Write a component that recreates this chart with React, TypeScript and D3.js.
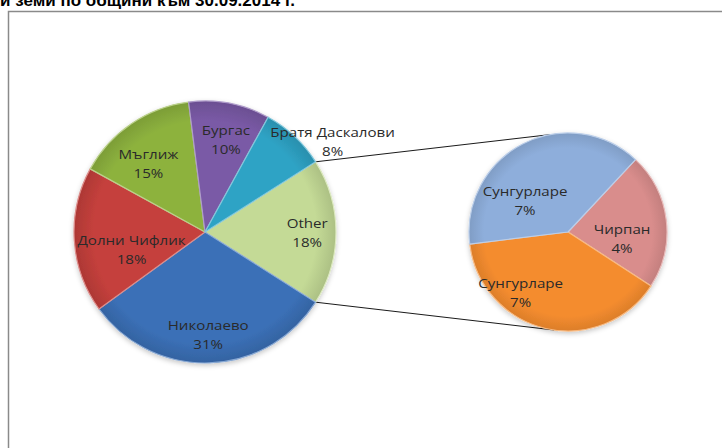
import React from 'react';
import * as d3 from 'd3';

// ---------- data ----------
const titleText = 'и земи по общини към 30.09.2014 г.';

const mainCategories = ['Other', 'Николаево', 'Долни Чифлик', 'Мъглиж', 'Бургас', 'Братя Даскалови'];
const mainValues = [18, 31, 18, 15, 10, 8];

const subCategories = ['Чирпан', 'Сунгурларе', 'Сунгурларе'];
const subValues = [4, 7, 7];

// ---------- styles / layout ----------
const mainColors = ['#c4da96', '#3b70b7', '#c5403c', '#8db23e', '#7a5aa6', '#2fa3c5'];
const subColors = ['#d98d8c', '#f48c2f', '#8eaedb'];

// label placement: radius factor + nudge (layout only)
const mainLabelLayout = [
  { f: 0.78, dx: 0, dy: 0 },
  { f: 0.78, dx: 0, dy: 0 },
  { f: 0.6, dx: 5, dy: 12 },
  { f: 0.7, dx: -5, dy: 7 },
  { f: 0.73, dx: 3, dy: 1 },
  { f: 1.2, dx: 20, dy: 24 },
];
const subLabelLayout = [
  { f: 0.55, dx: 0, dy: 13 },
  { f: 0.6, dx: -34, dy: 2 },
  { f: 0.6, dx: -16, dy: 21 },
];

const W = 722;
const H = 448;
const mainC = { x: 205, y: 232, r: 131 };
const subC = { x: 568, y: 232, r: 99 };
const subStartDeg = 43;
const connectorSubDeg = [100, 262]; // math angles on the second pie

const deg = Math.PI / 180;

function lighten(c: string, k: number) {
  return d3.interpolateRgb(c, '#ffffff')(k);
}
function darken(c: string, k: number) {
  return d3.interpolateRgb(c, '#000000')(k);
}

export default function App() {
  const mainTotal = d3.sum(mainValues);
  const otherFrac = mainValues[0] / mainTotal;
  const mainStart = Math.PI / 2 - otherFrac * Math.PI;

  const mainPie = d3
    .pie<number>()
    .sort(null)
    .value((d) => d)
    .startAngle(mainStart)
    .endAngle(mainStart + 2 * Math.PI);
  const mainArcs = mainPie(mainValues);

  const subPie = d3
    .pie<number>()
    .sort(null)
    .value((d) => d)
    .startAngle(subStartDeg * deg)
    .endAngle(subStartDeg * deg + 2 * Math.PI);
  const subArcs = subPie(subValues);

  const mainArc = d3.arc<d3.PieArcDatum<number>>().innerRadius(0).outerRadius(mainC.r);
  const subArc = d3.arc<d3.PieArcDatum<number>>().innerRadius(0).outerRadius(subC.r);

  const fmt = (v: number) => `${Math.round((v / mainTotal) * 100)}%`;

  // connector lines: from Other slice's edges to second pie
  const otherArc = mainArcs[0];
  const p1 = {
    x: mainC.x + mainC.r * Math.sin(otherArc.startAngle),
    y: mainC.y - mainC.r * Math.cos(otherArc.startAngle),
  };
  const p2 = {
    x: mainC.x + mainC.r * Math.sin(otherArc.endAngle),
    y: mainC.y - mainC.r * Math.cos(otherArc.endAngle),
  };
  const q1 = {
    x: subC.x + subC.r * Math.cos(connectorSubDeg[0] * deg),
    y: subC.y - subC.r * Math.sin(connectorSubDeg[0] * deg),
  };
  const q2 = {
    x: subC.x + subC.r * Math.cos(connectorSubDeg[1] * deg),
    y: subC.y - subC.r * Math.sin(connectorSubDeg[1] * deg),
  };

  const labelFont = "'Open Sans', 'DejaVu Sans', sans-serif";

  const renderLabel = (
    key: string,
    cx: number,
    cy: number,
    name: string,
    pct: string
  ) => (
    <g key={key} transform={`translate(${cx},${cy}) scale(1.12,1)`}>
      <text
        x={0}
        y={-9.5}
        textAnchor="middle"
        dominantBaseline="central"
        fontFamily={labelFont}
        fontSize={13.5}
        fill="#2a2a2a"
      >
        {name}
      </text>
      <text
        x={0}
        y={9.5}
        textAnchor="middle"
        dominantBaseline="central"
        fontFamily={labelFont}
        fontSize={13.5}
        fill="#2a2a2a"
      >
        {pct}
      </text>
    </g>
  );

  return (
    <svg
      width={W}
      height={H}
      style={{ position: 'absolute', left: 0, top: 0, background: '#ffffff' }}
    >
      <defs>
        {mainColors.map((c, i) => (
          <radialGradient
            key={'mg' + i}
            id={'mg' + i}
            gradientUnits="userSpaceOnUse"
            cx={0}
            cy={0}
            r={mainC.r}
          >
            <stop offset="0%" stopColor={c} />
            <stop offset="85%" stopColor={c} />
            <stop offset="100%" stopColor={darken(c, 0.12)} />
          </radialGradient>
        ))}
        {subColors.map((c, i) => (
          <radialGradient
            key={'sg' + i}
            id={'sg' + i}
            gradientUnits="userSpaceOnUse"
            cx={0}
            cy={0}
            r={subC.r}
          >
            <stop offset="0%" stopColor={c} />
            <stop offset="85%" stopColor={c} />
            <stop offset="100%" stopColor={darken(c, 0.1)} />
          </radialGradient>
        ))}
        <filter id="shadow" x="-20%" y="-20%" width="140%" height="140%">
          <feDropShadow dx="0" dy="2" stdDeviation="2.5" floodColor="#000" floodOpacity="0.22" />
        </filter>
      </defs>

      {/* title (cut off at top) */}
      <text
        x={0}
        y={5.5}
        fontFamily="'Liberation Sans', Arial, sans-serif"
        fontWeight="bold"
        fontSize={17}
        fill="#000"
      >
        {titleText}
      </text>

      {/* chart frame */}
      <rect x={8.5} y={11.5} width={W + 20} height={H + 20} fill="none" stroke="#8a8a8a" strokeWidth={1.5} />

      {/* connectors */}
      <line x1={p1.x} y1={p1.y} x2={q1.x} y2={q1.y} stroke="#1a1a1a" strokeWidth={1} />
      <line x1={p2.x} y1={p2.y} x2={q2.x} y2={q2.y} stroke="#1a1a1a" strokeWidth={1} />

      {/* main pie */}
      <g transform={`translate(${mainC.x},${mainC.y})`} filter="url(#shadow)">
        {mainArcs.map((a, i) => (
          <path
            key={'m' + i}
            d={mainArc(a) || ''}
            fill={`url(#mg${i})`}
            stroke={lighten(mainColors[i], 0.4)}
            strokeWidth={1.2}
            strokeLinejoin="round"
          />
        ))}
      </g>

      {/* second pie */}
      <g transform={`translate(${subC.x},${subC.y})`} filter="url(#shadow)">
        {subArcs.map((a, i) => (
          <path
            key={'s' + i}
            d={subArc(a) || ''}
            fill={`url(#sg${i})`}
            stroke={lighten(subColors[i], 0.4)}
            strokeWidth={1.2}
            strokeLinejoin="round"
          />
        ))}
      </g>

      {/* labels */}
      {mainArcs.map((a, i) => {
        const mid = (a.startAngle + a.endAngle) / 2;
        const L = mainLabelLayout[i];
        const cx = mainC.x + L.f * mainC.r * Math.sin(mid) + L.dx;
        const cy = mainC.y - L.f * mainC.r * Math.cos(mid) + L.dy;
        return renderLabel('ml' + i, cx, cy, mainCategories[i], fmt(mainValues[i]));
      })}
      {subArcs.map((a, i) => {
        const mid = (a.startAngle + a.endAngle) / 2;
        const L = subLabelLayout[i];
        const cx = subC.x + L.f * subC.r * Math.sin(mid) + L.dx;
        const cy = subC.y - L.f * subC.r * Math.cos(mid) + L.dy;
        return renderLabel('sl' + i, cx, cy, subCategories[i], fmt(subValues[i]));
      })}
    </svg>
  );
}
